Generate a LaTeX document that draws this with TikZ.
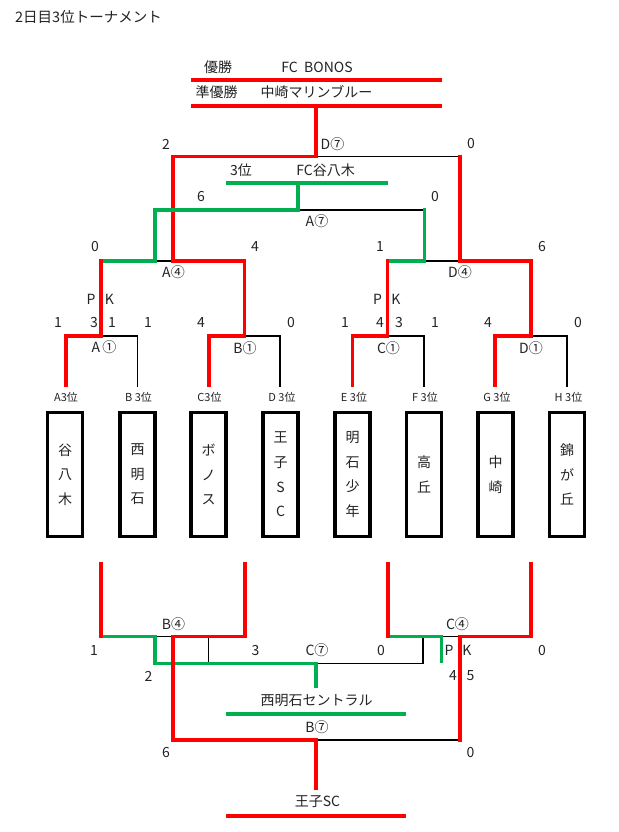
\documentclass[tikz,border=0pt]{standalone}
\usepackage{fontspec}
\setmainfont{Noto Sans CJK JP}
\definecolor{xred}{RGB}{255,0,0}
\definecolor{xgreen}{RGB}{0,176,80}
\definecolor{txt}{RGB}{35,35,35}
\begin{document}
\begin{tikzpicture}[x=1pt,y=-1pt,
  lbl/.style={inner sep=0pt, text=txt, font=\fontsize{14}{14}\selectfont},
  sml/.style={inner sep=0pt, text=txt, font=\fontsize{11}{11}\selectfont},
  redl/.style={draw=xred, line width=3.4pt, line join=miter},
  grnl/.style={draw=xgreen, line width=3.4pt, line join=miter},
  blkl/.style={draw=black, line width=1.8pt},
  thinblk/.style={draw=black, line width=1.1pt},
  teambox/.style={draw=black, line width=3.3pt, minimum width=35pt, minimum height=123.7pt,
    inner sep=0pt, text=txt, align=center, font=\fontsize{14}{24.6}\selectfont},
]
\useasboundingbox[fill=white] (0,0) rectangle (618,832);

% ---------- titles ----------
\node[lbl, anchor=west, font=\fontsize{14.5}{14.5}\selectfont] (title) at (15,17) {2日目3位トーナメント};
\node[lbl] (win) at (218,67) {優勝};
\node[lbl] (winname) at (317,67) {FC\ \ BONOS};
\node[lbl] (runner) at (216.5,92) {準優勝};
\node[lbl] (runnername) at (316.5,92) {中崎マリンブルー};

% ---------- upper bracket: black lines ----------
\draw[blkl] (316,156.5) -- (460,156.5);
\draw[blkl] (298,210) -- (424.5,210);
\draw[blkl] (155,261) -- (173,261);
\draw[blkl] (424.5,261) -- (460,261);
\draw[blkl] (101,336) -- (137.5,336) -- (137.5,387);
\draw[blkl] (244.5,336) -- (280,336) -- (280,387);
\draw[blkl] (387.5,336) -- (424,336) -- (424,387);
\draw[blkl] (531,336) -- (567,336) -- (567,387);

% ---------- upper bracket: winners (red) ----------
\draw[redl] (191,80) -- (442,80);
\draw[redl] (191,106) -- (442,106);
\draw[redl] (209,387) -- (209,336) -- (244.5,336) -- (244.5,261) -- (173,261)
  -- (173,156.5) -- (316,156.5) -- (316,106);
\draw[redl] (495,387) -- (495,336) -- (531,336) -- (531,261) -- (460,261) -- (460,154.8);
% ---------- third place (green) ----------
\draw[grnl] (226,183) -- (388,183);
\draw[grnl] (101,261) -- (155,261) -- (155,210) -- (298,210) -- (298,183);
\draw[grnl] (387.5,261) -- (424.5,261) -- (424.5,208.3);
\draw[redl] (66,387) -- (66,336) -- (101,336) -- (101,259.3);
\draw[redl] (352.5,387) -- (352.5,336) -- (387.5,336) -- (387.5,259.3);

% ---------- upper labels ----------
\node[lbl] (s2) at (166,144) {2};
\node[lbl] (mD7) at (332.5,144) {D⑦};
\node[lbl] (s0a) at (471,144) {0};
\node[lbl] (third) at (241,170) {3位};
\node[lbl] (thirdname) at (325.5,170) {FC谷八木};
\node[lbl] (s6a) at (201,197) {6};
\node[lbl] (s0b) at (435,197) {0};
\node[lbl] (mA7) at (317,221) {A⑦};
\node[lbl] (s0c) at (95,247) {0};
\node[lbl] (s4a) at (255,247) {4};
\node[lbl] (s1a) at (380,247) {1};
\node[lbl] (s6b) at (542,247) {6};
\node[lbl] (mA4) at (173.5,272) {A④};
\node[lbl] (mD4) at (460,272) {D④};
\node[lbl] (pkP1) at (91,299) {P};
\node[lbl] (pkK1) at (109.5,299) {K};
\node[lbl] (pkP2) at (377.5,299) {P};
\node[lbl] (pkK2) at (396,299) {K};
\node[lbl] (r1) at (58,323) {1};
\node[lbl] (r2) at (94,323) {3};
\node[lbl] (r3) at (112,323) {1};
\node[lbl] (r4) at (148,323) {1};
\node[lbl] (r5) at (201,323) {4};
\node[lbl] (r6) at (291,323) {0};
\node[lbl] (r7) at (345,323) {1};
\node[lbl] (r8) at (380,323) {4};
\node[lbl] (r9) at (399,323) {3};
\node[lbl] (r10) at (435,323) {1};
\node[lbl] (r11) at (488,323) {4};
\node[lbl] (r12) at (578,323) {0};
\node[lbl] (mA1) at (104,347) {A\,①};
\node[lbl] (mB1) at (245,348) {B①};
\node[lbl] (mC1) at (388.5,348) {C①};
\node[lbl] (mD1) at (531,348) {D①};

% ---------- seeds ----------
\node[sml] (seedA) at (66,397.5) {A3位};
\node[sml] (seedB) at (138.5,397.5) {B 3位};
\node[sml] (seedC) at (209.5,397.5) {C3位};
\node[sml] (seedD) at (282,397.5) {D 3位};
\node[sml] (seedE) at (354,397.5) {E 3位};
\node[sml] (seedF) at (425,397.5) {F 3位};
\node[sml] (seedG) at (497,397.5) {G 3位};
\node[sml] (seedH) at (568.5,397.5) {H 3位};

% ---------- team boxes ----------
\node[teambox] (boxA) at (65,474.5) {谷\\八\\木};
\node[teambox] (boxB) at (137.5,474.5) {西\\明\\石};
\node[teambox] (boxC) at (208.5,474.5) {ボ\\ノ\\ス};
\node[teambox] (boxD) at (280.5,474.5) {王\\子\\S\\C};
\node[teambox] (boxE) at (352.5,474.5) {明\\石\\少\\年};
\node[teambox] (boxF) at (424,474.5) {高\\丘};
\node[teambox] (boxG) at (495.5,474.5) {中\\崎};
\node[teambox] (boxH) at (567,474.5) {錦\\が\\丘};

% ---------- lower bracket ----------
\draw[thinblk] (208.5,636.5) -- (208.5,663.5);
\draw[thinblk] (316,663.5) -- (423,663.5) -- (423,636.5);
\draw[blkl] (155,636.5) -- (173,636.5);
\draw[blkl] (441.5,636.5) -- (460,636.5);
\draw[blkl] (316,740) -- (460,740);
\draw[grnl] (101,636.5) -- (155,636.5) -- (155,663.5) -- (316,663.5) -- (316,688);
\draw[grnl] (388,636.5) -- (441.5,636.5) -- (441.5,663);
\draw[grnl] (226,714) -- (406,714);
\draw[redl] (101,562) -- (101,638.2);
\draw[redl] (388,562) -- (388,638.2);
\draw[redl] (245,562) -- (245,636.5) -- (173,636.5) -- (173,740) -- (316,740) -- (316,790);
\draw[redl] (531,562) -- (531,636.5) -- (460,636.5) -- (460,741.7);
\draw[redl] (226,816) -- (406,816);

% ---------- lower labels ----------
\node[lbl] (mB4) at (173.5,624) {B④};
\node[lbl] (mC4) at (457.5,624) {C④};
\node[lbl] (l1) at (94,650.5) {1};
\node[lbl] (l3) at (255.5,650.5) {3};
\node[lbl] (mC7) at (317,650.5) {C⑦};
\node[lbl] (l0a) at (381,650.5) {0};
\node[lbl] (pkP3) at (449,650.5) {P};
\node[lbl] (pkK3) at (467,650.5) {K};
\node[lbl] (l0b) at (542,650.5) {0};
\node[lbl] (l2) at (148.5,676) {2};
\node[lbl] (l4) at (453,676) {4};
\node[lbl] (l5) at (470.5,676) {5};
\node[lbl] (cons3) at (316.5,701) {西明石セントラル};
\node[lbl] (mB7) at (317,727) {B⑦};
\node[lbl] (l6) at (166,752) {6};
\node[lbl] (l0c) at (470.5,752) {0};
\node[lbl] (cons1) at (317.5,802) {王子SC};
\end{tikzpicture}
\end{document}
